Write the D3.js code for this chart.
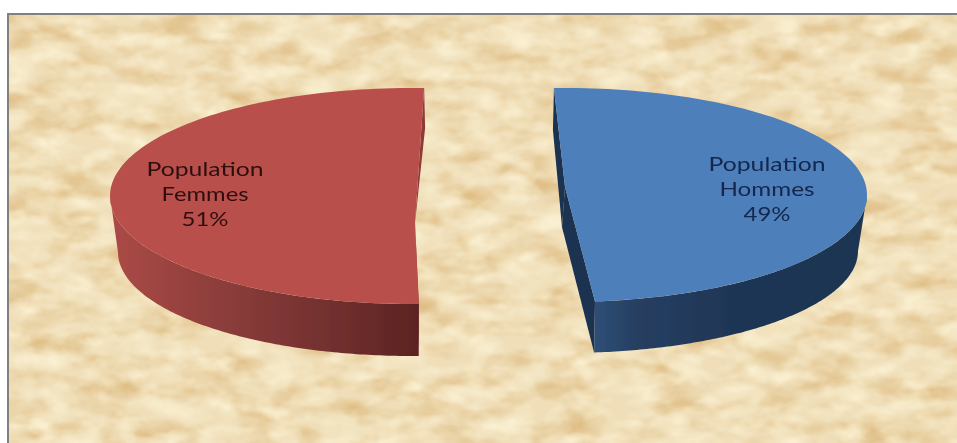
<!DOCTYPE html>
<html><head><meta charset="utf-8">
<script src="https://cdn.jsdelivr.net/npm/d3@7"></script>
<style>html,body{margin:0;padding:0;background:#fff;overflow:hidden}svg{display:block}</style>
</head><body><svg id="c" width="957" height="443"></svg>
<script>
const categories = ["Population Hommes", "Population Femmes"];
const labelLines = [["Population", "Hommes"], ["Population", "Femmes"]];
const values = [49, 51];
const percentLabels = ["49%", "51%"];

const W = 957, H = 443, rad = Math.PI / 180;
const geometry = [
  { rot: -2.1, cx: 565, cy: 195, rx: 302, ry: 107, bcy: 251, brx: 293, bry: 102,
    ax: 0, ay: -8, backDepth: 42, apexDepth: 40,
    top: "#4d7fba", wall: "#1b3151", label: [767, 171], text: "#13264d",
    side: [[0, "#2f4f77"], [0.15, "#263f62"], [0.5, "#1f3655"], [1, "#1e3652"]] },
  { rot: 2.3, cx: 412, cy: 196, rx: 302, ry: 108, bcy: 252, brx: 294, bry: 104,
    ax: 3, ay: 27, backDepth: 40, apexDepth: 0,
    top: "#b94f4c", wall: "#8c3b39", label: [205, 176], text: "#2e0f10",
    side: [[0, "#ab4a47"], [0.45, "#853a38"], [0.8, "#6c2c2b"], [1, "#5c2322"]] }
];

const svg = d3.select("#c");
const defs = svg.append("defs");

// parchment texture
const tex = defs.append("filter").attr("id", "tex")
  .attr("x", 0).attr("y", 0).attr("width", "100%").attr("height", "100%")
  .attr("color-interpolation-filters", "sRGB");
tex.append("feTurbulence").attr("type", "fractalNoise").attr("baseFrequency", "0.02 0.045")
  .attr("numOctaves", 6).attr("seed", 11).attr("result", "n");
tex.append("feGaussianBlur").attr("in", "n").attr("stdDeviation", 0.9).attr("result", "b");
tex.append("feColorMatrix").attr("in", "b").attr("type", "matrix")
  .attr("values", "0 0 0 0 0.87  0 0 0 0 0.73  0 0 0 0 0.50  1.9 0 0 0 -0.72");
const light = defs.append("filter").attr("id", "light")
  .attr("x", 0).attr("y", 0).attr("width", "100%").attr("height", "100%")
  .attr("color-interpolation-filters", "sRGB");
light.append("feTurbulence").attr("type", "fractalNoise").attr("baseFrequency", "0.03 0.06")
  .attr("numOctaves", 5).attr("seed", 29).attr("result", "n");
light.append("feGaussianBlur").attr("in", "n").attr("stdDeviation", 0.8).attr("result", "b");
light.append("feColorMatrix").attr("in", "b").attr("type", "matrix")
  .attr("values", "0 0 0 0 0.98  0 0 0 0 0.94  0 0 0 0 0.82  2.2 0 0 0 -0.82");
defs.append("filter").attr("id", "soft").append("feGaussianBlur").attr("stdDeviation", 0.45);

svg.append("rect").attr("width", W).attr("height", H).attr("fill", "#fff");
svg.append("rect").attr("x", 7).attr("y", 13).attr("width", W - 7).attr("height", H - 13).attr("fill", "#808080");
svg.append("rect").attr("x", 9).attr("y", 15).attr("width", W - 9).attr("height", H - 15).attr("fill", "#efdeb8");
svg.append("rect").attr("x", 9).attr("y", 15).attr("width", W - 9).attr("height", H - 15).attr("filter", "url(#tex)");
svg.append("rect").attr("x", 9).attr("y", 15).attr("width", W - 9).attr("height", H - 15).attr("filter", "url(#light)");

const arcs = d3.pie().sort(null).startAngle(0).endAngle(2 * Math.PI)(values);
const line = d3.line();
const chart = svg.append("g").attr("filter", "url(#soft)");

arcs.forEach((a, i) => {
  const g = geometry[i];
  const start = a.startAngle / rad + g.rot, end = a.endAngle / rad + g.rot;
  const sx = d3.scaleLinear().domain([-1, 1]).range([g.cx - g.rx, g.cx + g.rx]);
  const sy = d3.scaleLinear().domain([-1, 1]).range([g.cy - g.ry, g.cy + g.ry]);
  const bx = d3.scaleLinear().domain([-1, 1]).range([g.cx - g.brx, g.cx + g.brx]);
  const by = d3.scaleLinear().domain([-1, 1]).range([g.bcy - g.bry, g.bcy + g.bry]);
  const rim = d => [sx(Math.sin(d * rad)), sy(-Math.cos(d * rad))];
  const low = d => [bx(Math.sin(d * rad)), by(-Math.cos(d * rad))];
  const sweep = (from, to) => d3.range(0, 121).map(k => from + (to - from) * k / 120);
  const apex = [g.cx + g.ax, g.cy + g.ay];
  const apexLow = [apex[0] - (g.apexDepth ? 3 : 0), apex[1] + g.apexDepth];
  const backTop = rim(start > 90 ? end : start);
  const frontTop = rim(start > 90 ? start : end);
  const frontLow = low(start > 90 ? start : end);
  const backLow = [backTop[0] + (start > 90 ? 1 : -1), backTop[1] + g.backDepth];

  // cut walls
  chart.append("path").attr("fill", g.wall)
    .attr("d", line([backTop, apex, apexLow, backLow]) + "Z");
  chart.append("path").attr("fill", g.wall)
    .attr("d", line([apex, frontTop, frontLow, apexLow]) + "Z");

  // outer side, front half only
  const s0 = Math.max(start, 90), s1 = Math.min(end, 270);
  const gid = "side" + i;
  const xs = [...sweep(s0, s1).map(rim), ...sweep(s0, s1).map(low)].map(p => p[0]);
  const grad = defs.append("linearGradient").attr("id", gid).attr("gradientUnits", "userSpaceOnUse")
    .attr("x1", start > 90 ? d3.min(xs) : d3.max(xs)).attr("x2", start > 90 ? d3.max(xs) : d3.min(xs))
    .attr("y1", 0).attr("y2", 0);
  if (start <= 90) g.side.slice().reverse().forEach(s => grad.append("stop").attr("offset", 1 - s[0]).attr("stop-color", s[1]));
  g.side.forEach(s => { if (start > 90) grad.append("stop").attr("offset", s[0]).attr("stop-color", s[1]); });
  chart.append("path").attr("fill", `url(#${gid})`)
    .attr("d", line([...sweep(s0, s1).map(rim), ...sweep(s1, s0).map(low)]) + "Z");

  // top face
  chart.append("path").attr("fill", g.top)
    .attr("d", line([apex, ...sweep(start, end).map(rim)]) + "Z");

  // label
  const rows = [...labelLines[i], percentLabels[i]];
  const widths = [117, rows[1] === "Hommes" ? 95 : 87, 47];
  rows.forEach((t, k) => {
    chart.append("text").text(t)
      .attr("x", g.label[0]).attr("y", g.label[1] + k * 24.8)
      .attr("text-anchor", "middle").attr("fill", g.text)
      .attr("font-family", "Lato, 'Open Sans', sans-serif").attr("font-size", 19)
      .attr("textLength", widths[k]).attr("lengthAdjust", "spacingAndGlyphs");
  });
});
</script></body></html>
